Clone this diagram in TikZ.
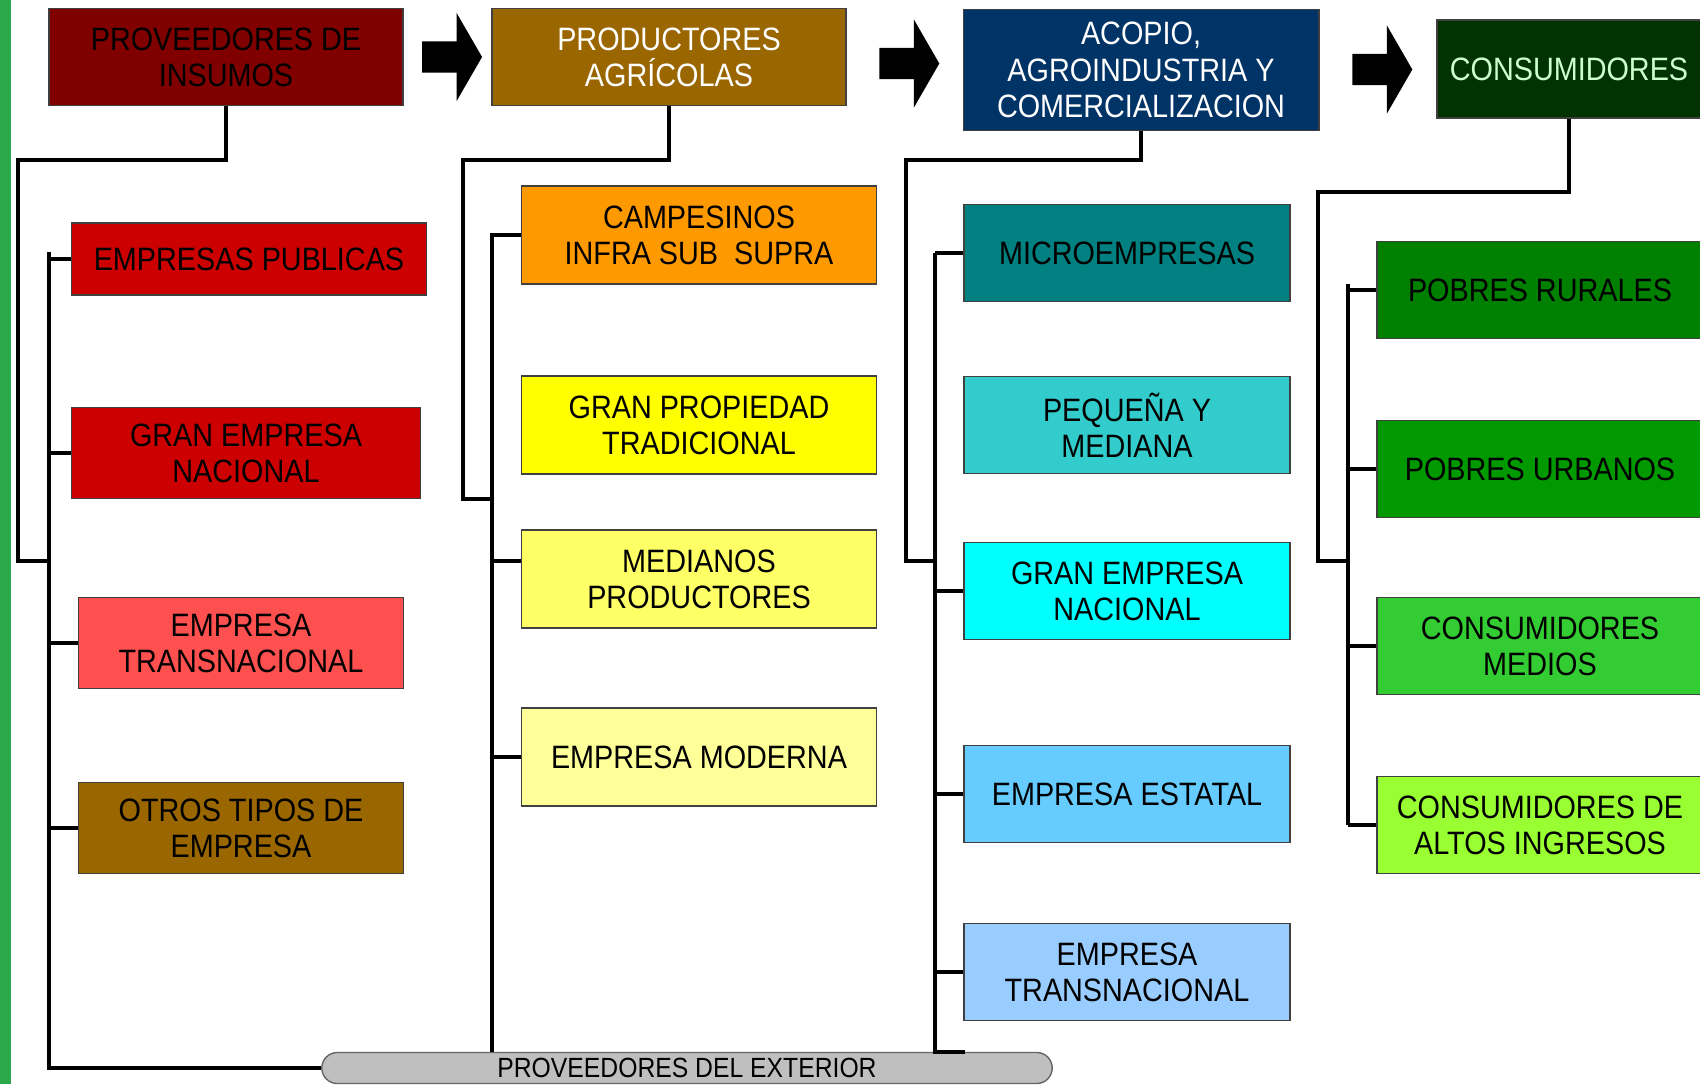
\documentclass[tikz,border=0pt]{standalone}
\usepackage{fontspec}
\setmainfont{Liberation Sans}[FakeStretch=0.89]
\usetikzlibrary{shapes.arrows,shapes.misc,calc}

\definecolor{cInsumos}{HTML}{800000}
\definecolor{cAgricolas}{HTML}{996600}
\definecolor{cAcopio}{HTML}{003366}
\definecolor{cConsum}{HTML}{003300}
\definecolor{cMint}{HTML}{CCFFCC}
\definecolor{cRojo}{HTML}{CC0000}
\definecolor{cSalmon}{HTML}{FF5050}
\definecolor{cNaranja}{HTML}{FF9900}
\definecolor{cAmarillo}{HTML}{FFFF00}
\definecolor{cAmarilloB}{HTML}{FFFF66}
\definecolor{cAmarilloC}{HTML}{FFFF99}
\definecolor{cTeal}{HTML}{008080}
\definecolor{cTurquesa}{HTML}{33CCCC}
\definecolor{cCian}{HTML}{00FFFF}
\definecolor{cCeleste}{HTML}{66CCFF}
\definecolor{cCelesteB}{HTML}{99CCFF}
\definecolor{cVerdeA}{HTML}{008000}
\definecolor{cVerdeB}{HTML}{009900}
\definecolor{cVerdeC}{HTML}{33CC33}
\definecolor{cVerdeD}{HTML}{99FF33}
\definecolor{cFranja}{HTML}{2AA84A}

\begin{document}
\begin{tikzpicture}[
	x=0.01cm, y=-0.01cm,
	font=\fontsize{9.2}{10.3}\selectfont,
	box/.style={draw=black!75, line width=0.5pt, align=center, inner sep=0pt},
	head/.style={box, minimum width=3.54cm, minimum height=0.97cm},
	left/.style={box, minimum width=3.25cm, minimum height=0.91cm},
	wide/.style={box, minimum width=3.55cm, minimum height=0.98cm},
	narrow/.style={box, minimum width=3.26cm, minimum height=0.97cm},
	link/.style={line width=1.2pt},
	flow/.style={single arrow, fill=black, inner xsep=0pt, inner ysep=0.15cm, minimum height=0.6cm,
		minimum width=0.87cm, single arrow head extend=0.285cm, single arrow tip angle=120}
]
	\useasboundingbox[fill=white] (0,0) rectangle (1700,1084);
	\fill[cFranja] (0,0) rectangle (11,1084);

	% cadena
	\node[head, fill=cInsumos] (insumos) at (226,57) {PROVEEDORES DE\\INSUMOS};
	\node[head, fill=cAgricolas, text=white] (agricolas) at (669,57) {PRODUCTORES\\AGRÍCOLAS};
	\node[head, fill=cAcopio, text=white, minimum width=3.55cm, minimum height=1.21cm] (acopio) at (1141,70)
		{ACOPIO,\\AGROINDUSTRIA Y\\COMERCIALIZACION};
	\node[head, fill=cConsum, text=cMint, minimum width=2.64cm, minimum height=0.98cm] (consum) at (1569,69) {CONSUMIDORES};

	\node[flow] (f1) at ($(insumos.east)!0.5!(agricolas.west)$) {};
	\node[flow] (f2) at ($(agricolas.east)!0.5!(acopio.west)$) {};
	\node[flow] (f3) at ($(acopio.east)!0.5!(consum.west)$) {};

	\node[box, fill=cRojo, minimum width=3.55cm, minimum height=0.72cm] (publicas) at (249,259) {EMPRESAS PUBLICAS};
	\node[box, fill=cRojo, minimum width=3.49cm, minimum height=0.91cm] (grannac) at (246,453) {GRAN EMPRESA\\NACIONAL};
	\node[left, fill=cSalmon] (transnac) at (241,643) {EMPRESA\\TRANSNACIONAL};
	\node[left, fill=cAgricolas] (otros) at (241,828) {OTROS TIPOS DE\\EMPRESA};

	\node[wide, fill=cNaranja] (campesinos) at (699,235) {CAMPESINOS\\INFRA SUB\ \ SUPRA};
	\node[wide, fill=cAmarillo] (granprop) at (699,425) {GRAN PROPIEDAD\\TRADICIONAL};
	\node[wide, fill=cAmarilloB] (medianos) at (699,579) {MEDIANOS\\PRODUCTORES};
	\node[wide, fill=cAmarilloC] (moderna) at (699,757) {EMPRESA MODERNA};

	\node[narrow, fill=cTeal] (micro) at (1127,253) {MICROEMPRESAS};
	\node[narrow, fill=cTurquesa] (pyme) at (1127,425) {PEQUEÑA Y\\MEDIANA};
	\node[narrow, fill=cCian] (granemp) at (1127,591) {GRAN EMPRESA\\NACIONAL};
	\node[narrow, fill=cCeleste] (estatal) at (1127,794) {EMPRESA ESTATAL};
	\node[narrow, fill=cCelesteB] (transemp) at (1127,972) {EMPRESA\\TRANSNACIONAL};

	\node[narrow, fill=cVerdeA] (rurales) at (1540,290) {POBRES RURALES};
	\node[narrow, fill=cVerdeB] (urbanos) at (1540,469) {POBRES URBANOS};
	\node[narrow, fill=cVerdeC] (medios) at (1540,646) {CONSUMIDORES\\MEDIOS};
	\node[narrow, fill=cVerdeD] (altos) at (1540,825) {CONSUMIDORES DE\\ALTOS INGRESOS};

	\node[rounded rectangle, draw=black!60, fill=black!25, inner sep=0pt, minimum width=7.3cm,
		minimum height=0.31cm, font=\fontsize{7.9}{9}\selectfont] (exterior) at (687,1068) {PROVEEDORES DEL EXTERIOR};

	\coordinate (top1) at (49,252);
	\coordinate (top2) at (492,233);
	\coordinate (top3) at (935,253);
	\coordinate (top4) at (1348,284);

	% ramas
	\draw[link] (insumos.south) |- (18,160) |- (top1 |- 0,561);
	\draw[link] (top1) -- (top1 |- exterior.west) -- (exterior.west);
	\draw[link] (publicas.west) -- (publicas.west -| top1)
		(grannac.west) -- (grannac.west -| top1)
		(transnac.west) -- (transnac.west -| top1)
		(otros.west) -- (otros.west -| top1);

	\draw[link] (agricolas.south) |- (463,160) |- (top2 |- 0,499);
	\draw[link] (top2) -- (top2 |- exterior.north);
	\draw[link] (campesinos.west) -- (campesinos.west -| top2)
		(top2 |- 0,561) -- (medianos.west |- 0,561)
		(moderna.west) -- (moderna.west -| top2);

	\draw[link] (acopio.south) |- (906,160) |- (top3 |- 0,561);
	\draw[link] (top3) -- (top3 |- exterior.north) -- ++(30,0);
	\draw[link] (micro.west) -- (micro.west -| top3)
		(granemp.west) -- (granemp.west -| top3)
		(estatal.west) -- (estatal.west -| top3)
		(transemp.west) -- (transemp.west -| top3);

	\draw[link] (consum.south) |- (1318,192) |- (top4 |- 0,561);
	\draw[link] (top4) -- (top4 |- altos.west);
	\draw[link] (rurales.west) -- (rurales.west -| top4)
		(urbanos.west) -- (urbanos.west -| top4)
		(medios.west) -- (medios.west -| top4)
		(altos.west) -- (altos.west -| top4);
\end{tikzpicture}
\end{document}
